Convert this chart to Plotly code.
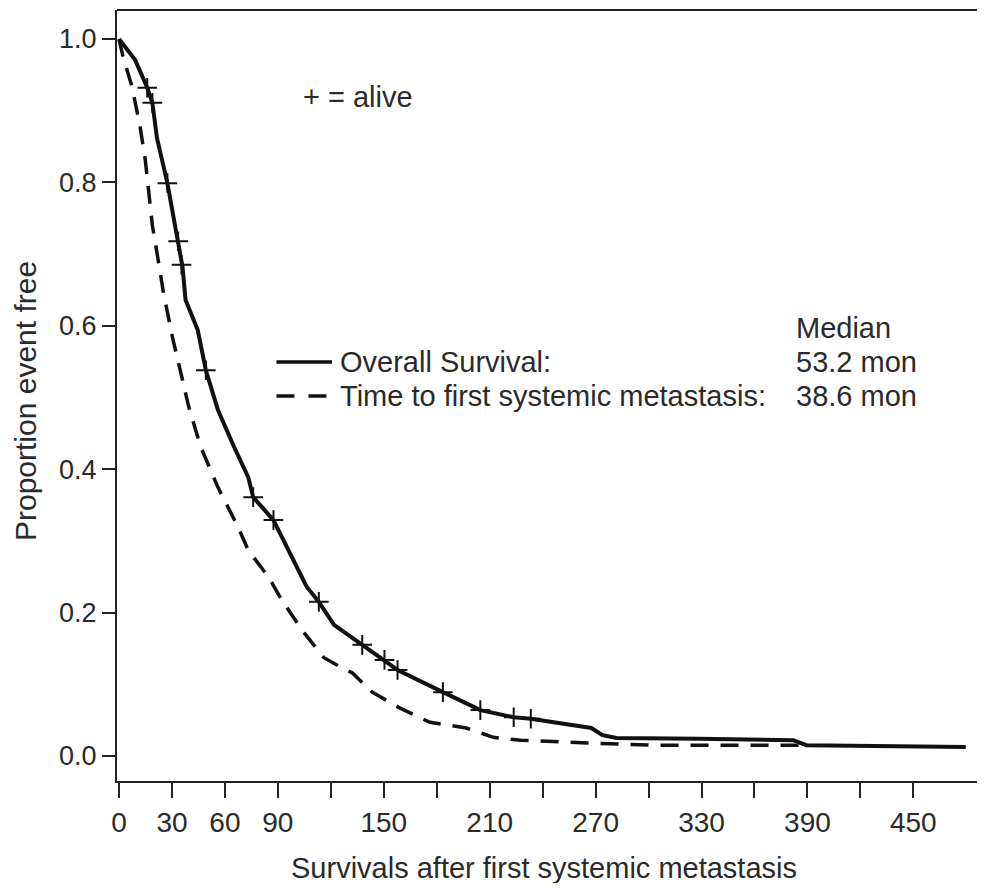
import plotly.graph_objects as go

# Overall survival (solid)
os_t = [0, 9.1, 16, 18.9, 21.5, 27.4, 33.2, 36, 37.7, 44.6, 49.2, 56.0, 65.2, 73.2, 76.0, 87.5,
        103.5, 106.3, 113.2, 121.8, 137.8, 150.4, 157.8, 183.5, 204.7, 223.6, 233.3, 267.6,
        273.9, 281.9, 315, 328.2, 382, 389.4, 479.7]
os_p = [1.0, 0.971, 0.932, 0.911, 0.862, 0.799, 0.720, 0.682, 0.636, 0.594, 0.538, 0.483, 0.431,
        0.389, 0.361, 0.329, 0.250, 0.236, 0.215, 0.183, 0.155, 0.134, 0.120, 0.089, 0.064,
        0.054, 0.052, 0.039, 0.029, 0.025, 0.025, 0.024, 0.022, 0.015, 0.0126]

# Time to first systemic metastasis (dashed)
tf_t = [0, 2.3, 7.4, 12, 14.9, 16.6, 18.9, 21.7, 25.2, 30.3, 34.9, 39.5, 46.3, 56.0, 67.5, 73.2,
        84.6, 92.1, 103.5, 116.1, 126.4, 132.1, 143.5, 159, 176.1, 196.7, 212.1, 227.6, 265.3,
        303.6, 385]
tf_p = [1.0, 0.975, 0.933, 0.877, 0.831, 0.794, 0.740, 0.699, 0.646, 0.584, 0.538, 0.487, 0.431,
        0.375, 0.319, 0.287, 0.250, 0.218, 0.176, 0.137, 0.123, 0.116, 0.089, 0.067, 0.047,
        0.039, 0.026, 0.022, 0.018, 0.015, 0.015]

# Censored (alive) marks on overall survival
cens_t = [16, 18.9, 27.4, 33.5, 35.4, 49.2, 76, 87.5, 113.2, 137.8, 150.4, 157.8, 183.5, 204.7,
          223.6, 233.3]
cens_p = [0.932, 0.911, 0.799, 0.718, 0.685, 0.538, 0.361, 0.329, 0.215, 0.155, 0.134, 0.120,
          0.089, 0.064, 0.054, 0.052]

xtick_vals = list(range(0, 451, 30))
xtick_text = ["0", "30", "60", "90", "", "150", "", "210", "", "270", "", "330", "", "390", "", "450"]
ytick_vals = [0.0, 0.2, 0.4, 0.6, 0.8, 1.0]
ytick_text = ["0.0", "0.2", "0.4", "0.6", "0.8", "1.0"]

FONT = "Liberation Sans, Arial, sans-serif"
TXT = "#2a2a2a"
LINE = "#111111"

fig = go.Figure()
fig.add_trace(go.Scatter(x=tf_t, y=tf_p, mode="lines",
                         line=dict(color=LINE, width=3.5, dash="18px,12px"),
                         showlegend=False, hoverinfo="skip"))
fig.add_trace(go.Scatter(x=os_t, y=os_p, mode="lines",
                         line=dict(color=LINE, width=4),
                         showlegend=False, hoverinfo="skip"))
fig.add_trace(go.Scatter(x=cens_t, y=cens_p, mode="markers",
                         marker=dict(symbol="cross-thin", size=14,
                                     line=dict(color=LINE, width=2)),
                         showlegend=False, hoverinfo="skip"))

fig.update_layout(
    width=977, height=875,
    margin=dict(l=109, r=0, t=2, b=102),
    paper_bgcolor="white", plot_bgcolor="white",
    font=dict(family=FONT, color=TXT, size=28),
    xaxis=dict(range=[-1.14, 490.6], showgrid=False, zeroline=False,
               showline=True, linecolor="#222", linewidth=2,
               ticks="outside", ticklen=15, tickwidth=2, tickcolor="#222",
               tickvals=xtick_vals, ticktext=xtick_text,
               tickfont=dict(size=28, color=TXT)),
    yaxis=dict(range=[-0.0349, 1.0405], showgrid=False, zeroline=False,
               showline=True, linecolor="#222", linewidth=2,
               ticks="outside", ticklen=13, tickwidth=2, tickcolor="#222",
               tickvals=ytick_vals, ticktext=ytick_text,
               tickfont=dict(size=27, color=TXT)),
)

shapes = [
    # top frame line
    dict(type="line", xref="paper", yref="paper", x0=0, x1=1, y0=1, y1=1,
         line=dict(color="#222", width=2)),
    # legend lines
    dict(type="line", xref="paper", yref="paper", x0=0.1837, x1=0.2477, y0=0.5435, y1=0.5435,
         line=dict(color=LINE, width=3.5)),
    dict(type="line", xref="paper", yref="paper", x0=0.1837, x1=0.2477, y0=0.4994, y1=0.4994,
         line=dict(color=LINE, width=3.5, dash="18px,14px")),
]
fig.update_layout(shapes=shapes)

def ann(text, x, y, size=29, xanchor="left", **kw):
    fig.add_annotation(text=text, x=x, y=y, xref="paper", yref="paper",
                       xanchor=xanchor, yanchor="middle", showarrow=False,
                       font=dict(family=FONT, size=size, color=TXT), **kw)

ann("+ = alive", 0.2125, 0.8872)
ann("Median", 0.7805, 0.5875)
ann("Overall Survival:", 0.2545, 0.5435)
ann("53.2 mon", 0.7805, 0.5435)
ann("Time to first systemic metastasis:", 0.2545, 0.4994)
ann("38.6 mon", 0.7805, 0.4994)
ann("Survivals after first systemic metastasis", 0.4919, -0.113, xanchor="center")
ann("Proportion event free", -0.1047, 0.493, size=30, xanchor="center", textangle=-90)

fig.write_html("out.html")
